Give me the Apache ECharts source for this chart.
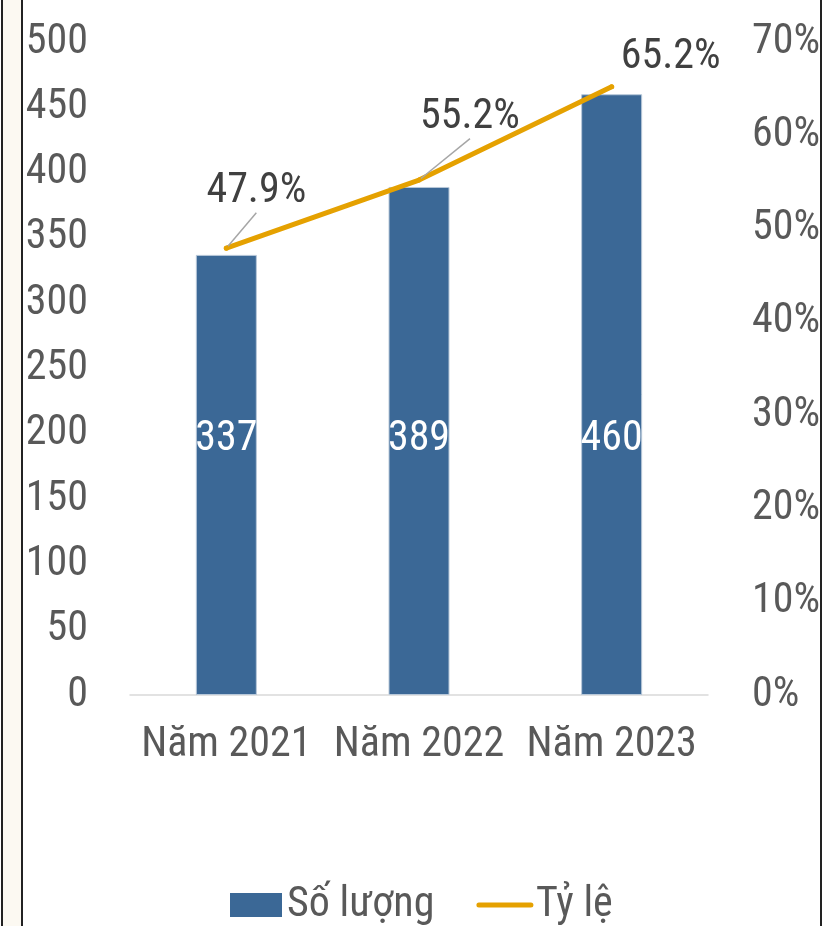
<!DOCTYPE html>
<html>
<head>
<meta charset="utf-8">
<script src="https://cdn.jsdelivr.net/npm/echarts@6/dist/echarts.min.js"></script>
<style>
    html, body { margin: 0; padding: 0; background: #fff; }
    #wrap { position: relative; width: 824px; height: 926px; overflow: hidden; }
    #chart { position: absolute; left: 0; top: 0; width: 824px; height: 926px; }
    .strip { position: absolute; top: 0; left: 3px; width: 19px; height: 926px; background: #fcf9f2; }
    .ln { position: absolute; top: 0; width: 2px; height: 926px; background: #222; }
</style>
</head>
<body>
<div id="wrap">
    <div id="chart"></div>
    <div class="strip"></div>
    <div class="ln" style="left:1px"></div>
    <div class="ln" style="left:21px"></div>
    <div class="ln" style="left:820px"></div>
</div>
<script>
// du lieu
const categories = ['Năm 2021', 'Năm 2022', 'Năm 2023']
const soLuong = [337, 389, 460]
const tyLe = [47.9, 55.2, 65.2]

const font = 'Roboto Condensed, Roboto, sans-serif'
const fs = 42
// vi tri nhan cua duong ty le (dx, dy)
const labelShift = [[30, -33], [51, -39], [59, -6]]

let chart = echarts.init(document.getElementById('chart'))
let option = {
    animation: false,
    textStyle: { fontFamily: font },
    grid: { left: 130, right: 116, top: 42, bottom: 231 },
    legend: {
        bottom: -5,
        left: 225,
        itemWidth: 52,
        itemHeight: 24,
        itemGap: 42,
        textStyle: { fontSize: fs, color: '#595959', fontFamily: font },
        data: [
            { name: 'Số lượng', icon: 'rect', itemStyle: { borderWidth: 0 } },
            { name: 'Tỷ lệ', itemStyle: { opacity: 0 }, lineStyle: { width: 5, cap: 'round' } }
        ]
    },
    xAxis: {
        type: 'category',
        data: categories,
        axisLine: { lineStyle: { color: '#d9d9d9', width: 1.5 } },
        axisTick: { show: false },
        axisLabel: { fontSize: fs, color: '#595959', margin: 29, interval: 0, fontFamily: font }
    },
    yAxis: [
        {
            type: 'value',
            min: 0, max: 500, interval: 50,
            splitLine: { show: false },
            axisLine: { show: false },
            axisLabel: { fontSize: fs, color: '#595959', margin: 42, fontFamily: font }
        },
        {
            type: 'value',
            min: 0, max: 70, interval: 10,
            splitLine: { show: false },
            axisLine: { show: false },
            axisLabel: { fontSize: fs, color: '#595959', margin: 44, fontFamily: font, formatter: '{value}%' }
        }
    ],
    series: [
        {
            name: 'Số lượng',
            type: 'bar',
            data: soLuong,
            barWidth: 61,
            itemStyle: { color: '#3b6896', borderColor: '#b8c8d9', borderWidth: 1 },
            label: {
                show: true,
                position: 'insideBottom',
                distance: 235,
                color: '#fff',
                fontSize: fs,
                fontFamily: font
            }
        },
        {
            name: 'Tỷ lệ',
            type: 'line',
            yAxisIndex: 1,
            data: tyLe.map((v, i) => ({ value: v, labelLine: { show: i < 2 } })),
            symbol: 'circle',
            symbolSize: 5,
            itemStyle: { color: '#e5a100' },
            lineStyle: { color: '#e5a100', width: 5, cap: 'round' },
            label: {
                show: true,
                position: 'top',
                distance: 0,
                padding: [0, 40, 0, 40],
                backgroundColor: 'rgba(255,255,255,0.01)',
                color: '#404040',
                fontSize: fs,
                fontFamily: font,
                formatter: p => p.value.toFixed(1) + '%'
            },
            labelLine: { show: true, lineStyle: { color: '#a6a6a6', width: 1.5 } },
            labelLayout: p => ({ dx: labelShift[p.dataIndex][0], dy: labelShift[p.dataIndex][1] })
        }
    ]
}
chart.setOption(option)
</script>
</body>
</html>
